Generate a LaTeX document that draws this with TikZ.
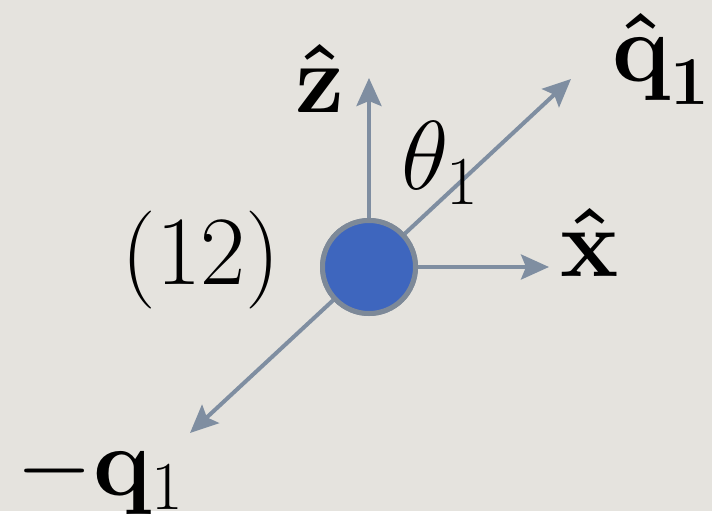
\RequirePackage{fix-cm}
\documentclass[tikz,border=0pt]{standalone}
\usepackage{amsmath}
\usepackage{tikz}
\usetikzlibrary{arrows.meta}
\definecolor{bgpaper}{RGB}{229,227,222}
\definecolor{vecgray}{RGB}{127,142,161}
\definecolor{ballblue}{RGB}{62,102,190}
\definecolor{ballrim}{RGB}{125,137,152}

\begin{document}
\begin{tikzpicture}[
  x=1pt, y=-1pt,
  font=\fontsize{98}{112}\selectfont,
  vec/.style={-{Stealth[length=28pt, width=25pt, inset=5pt]}, line width=4pt, draw=vecgray},
  ball/.style={circle, fill=ballblue, draw=ballrim, line width=5pt, minimum size=93pt, inner sep=0},
  lbl/.style={anchor=base, inner sep=0},
]

% paper background, fixes the margins
\fill[bgpaper] (0,0) rectangle (712,511);

\node[ball] (c) at (369,267) {};

% arrow tips
\coordinate (ztip)  at (369,78);
\coordinate (xtip)  at (549,267);
\coordinate (qtip)  at (571,79);
\coordinate (mqtip) at (190,433);

\draw[vec] (c) -- (ztip);
\draw[vec] (c) -- (xtip);
\draw[vec] (c) -- (qtip);
\draw[vec] (c) -- (mqtip);
\node[ball] at (c) {};

\node[lbl] (perm)  at (201,285) {$(12)$};
\node[lbl] (xlbl)  at (590,277) {$\boldsymbol{\hat{\mathbf{x}}}$};
\node[lbl] (zlbl)  at (320,113) {$\boldsymbol{\hat{\mathbf{z}}}$};
\node[lbl] (theta) at (440,190) {$\theta_1$};
\node[lbl] (qlbl)  at (661,82)  {$\boldsymbol{\hat{\mathbf{q}}}_{\mathbf{1}}$};
\node[lbl] (mqlbl) at (100,495) {$-\mathbf{q}_1$};

\end{tikzpicture}
\end{document}
